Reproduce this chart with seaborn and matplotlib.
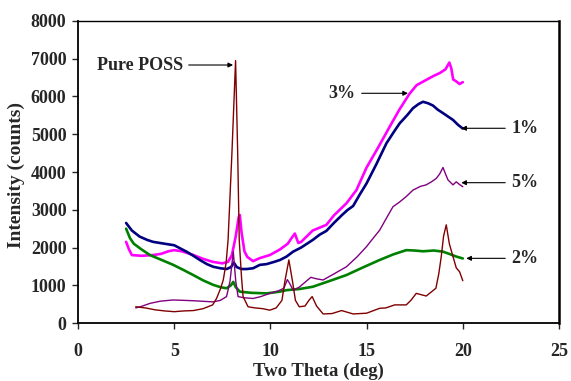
import matplotlib
matplotlib.use("Agg")
import matplotlib.pyplot as plt
import seaborn as sns
import pandas as pd

# ---- data ----
x_1 = [2.5, 2.8, 3.2, 3.6, 3.9, 4.5, 5.0, 5.3, 5.64, 6.0, 6.33, 6.7, 7.03, 7.4, 7.72, 7.95, 8.1, 8.25,
       8.5, 8.76, 9.1, 9.45, 9.8, 10.2, 10.5, 10.84, 11.18, 11.6, 12.2, 12.56, 12.91, 13.3, 13.7, 14.0,
       14.3, 14.64, 15.0, 15.5, 16.03, 16.4, 16.72, 17.1, 17.41, 17.7, 17.93, 18.2, 18.45, 18.7, 18.97,
       19.2, 19.49, 19.75, 20.0]
y_1 = [2650, 2450, 2290, 2200, 2150, 2100, 2060, 1980, 1890, 1780, 1670, 1560, 1490, 1450, 1430, 1480,
       1600, 1480, 1430, 1430, 1450, 1540, 1560, 1620, 1670, 1760, 1890, 2000, 2200, 2340, 2440, 2650,
       2850, 2990, 3100, 3400, 3700, 4200, 4760, 5050, 5290, 5500, 5690, 5800, 5860, 5820, 5760, 5650,
       5560, 5480, 5380, 5250, 5150]

x_3 = [2.5, 2.65, 2.8, 3.3, 3.9, 4.3, 4.7, 5.0, 5.4, 6.0, 6.5, 7.0, 7.5, 7.8, 8.0, 8.2, 8.35, 8.41,
       8.5, 8.65, 8.8, 9.1, 9.45, 9.97, 10.5, 10.9, 11.1, 11.27, 11.45, 11.6, 12.2, 12.91, 13.3, 13.95,
       14.47, 15.0, 15.6, 16.2, 16.7, 17.24, 17.6, 18.1, 18.5, 18.8, 19.1, 19.3, 19.4, 19.5, 19.66,
       19.83, 20.0]
y_3 = [2150, 1950, 1800, 1780, 1800, 1830, 1900, 1930, 1900, 1800, 1700, 1620, 1580, 1620, 1800, 2300,
       2800, 2860, 2400, 1900, 1750, 1640, 1720, 1800, 1950, 2100, 2250, 2370, 2120, 2150, 2450, 2600,
       2850, 3170, 3520, 4120, 4650, 5200, 5650, 6080, 6300, 6440, 6550, 6620, 6720, 6900, 6750, 6450,
       6400, 6330, 6380]

x_2 = [2.5, 2.7, 2.9, 3.3, 3.74, 4.3, 4.95, 5.5, 5.99, 6.5, 7.03, 7.4, 7.72, 7.95, 8.07, 8.2, 8.41,
       9.0, 9.8, 10.49, 10.84, 11.5, 12.2, 13.0, 13.95, 14.8, 15.68, 16.4, 17.06, 17.5, 17.93, 18.5,
       18.97, 19.3, 19.66, 20.0]
y_2 = [2500, 2250, 2100, 1950, 1800, 1680, 1540, 1400, 1270, 1130, 1010, 950, 920, 1000, 1090, 950,
       830, 800, 785, 830, 870, 900, 960, 1100, 1270, 1470, 1670, 1820, 1930, 1920, 1900, 1920, 1890,
       1830, 1760, 1710]

x_5 = [3.0, 3.3, 3.74, 4.3, 4.95, 5.5, 5.99, 6.5, 7.03, 7.4, 7.72, 7.9, 8.07, 8.2, 8.32, 8.6, 9.1,
       9.5, 9.97, 10.4, 10.7, 10.88, 11.0, 11.18, 11.5, 12.1, 12.4, 12.74, 13.3, 13.95, 14.5, 14.99,
       15.3, 15.68, 16.0, 16.37, 16.7, 17.06, 17.41, 17.8, 18.1, 18.4, 18.62, 18.8, 18.97, 19.1, 19.23,
       19.49, 19.66, 19.8, 20.0]
y_5 = [400, 440, 520, 580, 610, 600, 590, 575, 560, 600, 700, 1100, 1890, 1100, 700, 670, 650, 700,
       785, 850, 920, 1150, 1050, 870, 950, 1210, 1170, 1140, 1300, 1490, 1750, 2020, 2220, 2460, 2750,
       3080, 3200, 3350, 3520, 3620, 3660, 3750, 3830, 3950, 4120, 3950, 3790, 3660, 3740, 3680, 3610]

x_p = [3.0, 3.5, 4.0, 4.5, 5.0, 5.5, 6.0, 6.5, 7.0, 7.2, 7.4, 7.55, 7.7, 7.8, 8.0, 8.19, 8.3, 8.38,
       8.5, 8.58, 8.84, 9.2, 9.6, 9.97, 10.3, 10.6, 10.75, 10.96, 11.15, 11.3, 11.5, 11.8, 12.0, 12.17,
       12.4, 12.74, 13.2, 13.7, 14.3, 15.0, 15.68, 16.0, 16.46, 17.06, 17.3, 17.58, 18.1, 18.6, 18.75,
       18.88, 19.0, 19.14, 19.3, 19.49, 19.66, 19.83, 20.0]
y_p = [430, 400, 350, 320, 300, 320, 330, 380, 480, 650, 900, 1140, 1600, 2200, 4500, 6950, 4500, 2200,
       1200, 700, 430, 400, 380, 340, 400, 600, 1100, 1670, 1100, 600, 430, 450, 600, 700, 450, 240,
       250, 330, 240, 260, 390, 400, 480, 480, 600, 785, 715, 920, 1300, 1760, 2300, 2600, 2100, 1760,
       1460, 1360, 1120]

x_ticks = [0, 5, 10, 15, 20, 25]
y_ticks = [0, 1000, 2000, 3000, 4000, 5000, 6000, 7000, 8000]

series = [
    ("3%", x_3, y_3, "#FF00FF", 1.9),
    ("1%", x_1, y_1, "#000080", 1.9),
    ("2%", x_2, y_2, "#008000", 1.9),
    ("5%", x_5, y_5, "#800080", 1.0),
    ("Pure POSS", x_p, y_p, "#800000", 1.0),
]

sns.set_style("ticks")
plt.rcParams["font.family"] = ["Liberation Serif", "DejaVu Serif"]
plt.rcParams["font.weight"] = "bold"

fig = plt.figure(figsize=(5.71, 3.81), dpi=100)
ax = fig.add_axes([0.1366, 0.1522, 0.8424, 0.7927])

for name, xs, ys, col, lw in series:
    df = pd.DataFrame({"theta": xs, "intensity": ys})
    sns.lineplot(data=df, x="theta", y="intensity", color=col, linewidth=lw,
                 estimator=None, sort=False, ax=ax)

ax.set_xlim(0, 25)
ax.set_ylim(0, 8000)
ax.set_xticks(x_ticks)
ax.set_yticks(y_ticks)
ax.tick_params(axis="both", direction="out", length=4.3, width=1.0, labelsize=13)
ax.tick_params(axis="x", pad=10)
ax.tick_params(axis="y", pad=4)
for lab in ax.get_xticklabels() + ax.get_yticklabels():
    lab.set_fontweight("bold")

for side, lw in [("left", 1.3), ("bottom", 1.3), ("top", 1.0), ("right", 1.8)]:
    ax.spines[side].set_visible(True)
    ax.spines[side].set_linewidth(lw)
    ax.spines[side].set_color("black")

ax.set_xlabel("Two Theta (deg)", fontsize=13.5, fontweight="bold")
ax.set_ylabel("Intensity (counts)", fontsize=14, fontweight="bold")
ax.xaxis.set_label_coords(0.5, -0.131)
ax.yaxis.set_label_coords(-0.11, 0.49)

arrow = dict(arrowstyle="-|>", color="black", lw=0.8, mutation_scale=7, shrinkA=2, shrinkB=0)
ax.annotate("Pure POSS", xy=(8.06, 6834), xytext=(5.44, 6834), ha="right", va="center",
            fontsize=13, fontweight="bold", arrowprops=arrow)
ax.annotate("3%", xy=(17.15, 6085), xytext=(14.43, 6085), ha="right", va="center",
            fontsize=13, fontweight="bold", arrowprops=arrow)
ax.annotate("1%", xy=(19.92, 5158), xytext=(22.52, 5158), ha="left", va="center",
            fontsize=13, fontweight="bold", arrowprops=arrow)
ax.annotate("5%", xy=(19.92, 3717), xytext=(22.52, 3717), ha="left", va="center",
            fontsize=13, fontweight="bold", arrowprops=arrow)
ax.annotate("2%", xy=(20.18, 1713), xytext=(22.52, 1713), ha="left", va="center",
            fontsize=13, fontweight="bold", arrowprops=arrow)

fig.savefig("out.png", dpi=100)
